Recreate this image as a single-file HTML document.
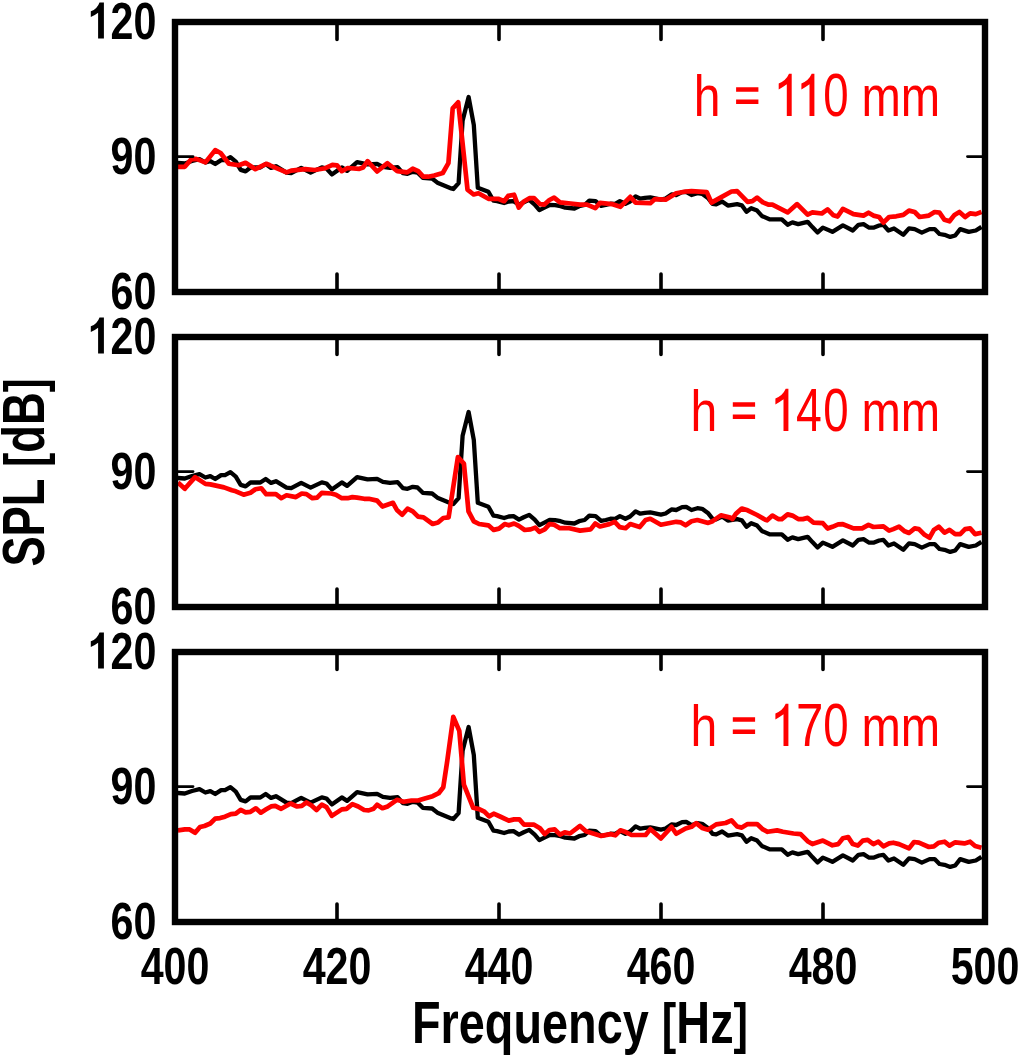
<!DOCTYPE html>
<html><head><meta charset="utf-8"><style>
html,body{margin:0;padding:0;background:#fff;width:1020px;height:1056px;overflow:hidden}
svg{display:block;will-change:transform}
text{font-family:"Liberation Sans",sans-serif}
.tl{font-weight:bold;font-size:51.5px;text-anchor:end}
.xl{font-weight:bold;font-size:51.5px;text-anchor:middle}
.pr{fill:#ff0000}
.ax{font-weight:bold;font-size:59px;text-anchor:middle}
</style></head><body>
<svg width="1020" height="1056" viewBox="0 0 1020 1056">
<clipPath id="c0"><rect x="178" y="25" width="804" height="264"/></clipPath>
<g clip-path="url(#c0)">
<polyline points="177.9,163.0 184.8,163.5 192.0,161.0 199.5,159.1 205.4,162.5 210.3,161.1 215.2,164.0 221.1,160.1 225.0,160.1 230.4,157.2 235.8,161.6 240.7,169.9 245.6,171.4 250.5,167.5 260.3,167.5 265.7,164.0 271.1,167.9 275.9,166.2 286.5,172.6 291.2,173.2 301.2,167.9 310.6,172.6 321.8,167.4 326.5,168.5 331.8,174.4 341.8,167.4 347.1,170.9 357.1,162.1 367.6,164.4 377.1,163.8 382.9,166.8 390.0,167.9 397.6,167.2 402.9,173.2 407.5,173.8 412.8,171.8 417.5,172.5 422.8,177.8 432.1,178.5 438.0,183.1 451.3,188.4 453.3,189.0 458.6,183.1 462.6,120.8 468.6,97.0 473.8,124.8 477.8,187.8 488.4,191.7 493.5,200.7 497.1,201.1 504.1,203.0 508.8,201.5 513.5,201.1 519.0,204.6 523.7,202.3 529.2,199.9 534.7,204.6 539.4,210.1 544.9,207.4 549.6,205.0 555.1,205.2 560.6,206.2 565.3,207.7 574.4,208.5 579.1,206.2 584.6,205.0 589.3,200.7 595.6,201.1 601.1,205.8 605.8,205.0 610.5,203.7 615.2,203.8 619.9,201.1 625.4,203.8 630.1,201.5 635.6,196.4 640.3,198.7 645.0,197.9 650.3,197.4 660.9,199.7 665.6,198.5 671.5,194.4 676.2,195.0 682.1,192.1 686.2,191.8 691.5,195.0 697.4,193.2 702.1,193.8 707.9,197.9 712.6,203.8 716.2,204.4 722.1,201.5 727.9,205.6 737.1,204.1 741.8,205.3 746.5,211.8 751.2,208.2 757.1,210.6 761.8,215.9 770.0,219.4 781.8,219.4 787.6,224.7 792.4,222.4 798.2,224.1 807.6,221.8 812.4,227.1 817.6,232.4 822.9,227.6 832.4,231.8 842.9,225.3 852.8,230.5 858.5,224.8 863.5,224.1 869.2,227.7 873.4,227.7 879.1,225.5 883.4,224.8 888.4,230.5 894.0,228.4 903.3,234.8 909.0,228.4 914.7,229.1 921.8,232.6 929.6,229.1 934.6,229.1 939.5,234.0 944.5,234.8 950.2,236.9 955.2,235.5 960.2,229.1 968.7,231.9 975.8,230.5 981.5,226.9" fill="none" stroke="#000" stroke-width="4.3" stroke-linejoin="round"/>
<polyline points="177.9,166.8 184.8,166.8 191.2,159.4 196.1,158.9 205.4,162.4 215.2,150.1 220.6,153.0 228.9,163.8 238.7,165.3 245.6,162.8 255.4,169.2 266.2,163.8 270.0,165.3 286.5,172.4 291.2,170.6 305.3,169.2 314.7,170.0 325.3,168.2 332.4,164.9 337.0,165.3 341.8,171.2 347.6,168.0 359.4,168.8 363.0,167.6 367.6,161.2 377.1,171.5 387.5,163.2 397.3,171.2 407.2,172.4 412.7,168.7 418.2,171.2 423.2,176.7 428.1,176.7 434.2,175.5 442.8,173.0 448.4,163.2 452.7,108.4 458.2,102.2 467.5,189.6 473.6,194.5 478.5,193.3 488.4,198.8 498.2,198.8 504.1,201.2 508.2,195.9 514.1,194.7 518.8,207.6 523.5,201.8 529.4,198.2 534.1,198.2 540.0,204.1 544.1,204.7 549.4,200.0 554.1,197.6 560.0,202.4 570.6,203.5 580.0,204.7 587.0,204.7 595.3,208.2 600.0,202.9 611.8,204.1 620.3,206.8 630.3,196.8 635.6,202.6 650.3,203.2 655.0,199.1 665.6,199.7 676.2,193.2 685.6,191.5 691.5,191.1 706.8,192.1 711.5,202.6 720.9,197.4 731.5,191.5 737.1,191.2 747.6,201.8 752.4,201.2 757.1,197.6 762.9,202.4 768.8,204.7 772.4,204.7 787.6,212.4 797.1,204.1 807.6,214.7 812.4,212.4 821.8,213.5 827.6,209.4 833.5,215.3 837.6,216.5 842.9,208.8 853.5,214.1 863.5,215.6 868.5,212.7 873.4,215.6 879.1,217.0 883.4,222.7 889.1,217.0 896.2,216.3 903.3,214.9 909.0,210.6 914.7,212.0 919.6,217.0 928.9,215.6 934.6,212.0 939.5,212.7 944.5,219.8 949.5,221.3 954.5,214.9 959.4,212.0 965.1,217.0 970.1,213.4 975.8,214.1 981.5,212.0" fill="none" stroke="#ff0000" stroke-width="4.7" stroke-linejoin="round"/>
</g>
<rect x="175" y="22" width="810" height="270" fill="none" stroke="#000" stroke-width="6.4"/>
<path d="M337 25V39.5M337 289V274.0M499 25V39.5M499 289V274.0M661 25V39.5M661 289V274.0M823 25V39.5M823 289V274.0" stroke="#000" stroke-width="3.6" stroke-linecap="round" fill="none"/>
<path d="M178 156.6H193M982 156.6H967.5" stroke="#000" stroke-width="2.9" stroke-linecap="round" fill="none"/>
<text class="tl" transform="translate(156.3,38.5) scale(0.800,1)">20</text>
<text class="tl" transform="translate(156.3,173.5) scale(0.800,1)">90</text>
<text class="tl" transform="translate(156.3,308.5) scale(0.800,1)">60</text>
<path transform="translate(90.8,38.4)" d="M8.7,-36L13.1,-36L13.1,0L7.3,0L7.3,-25.7Q4.5,-23.5 0,-21.3L0,-27.1Q6.5,-29.5 8.7,-36Z"/>
<text class="pr" style="font-size:57.0px" transform="translate(693.78,116.00) scale(0.8439,1)">h</text>
<path fill="#ff0000" d="M736.1 87.2h22.3v4.5h-22.3z M736.1 99.5h22.3v4.5h-22.3z"/>
<path fill="#ff0000" transform="translate(778.7,116.0)" d="M10.3,-42.2L13,-42.2L13,0L8.1,0L8.1,-31.7Q4.5,-29 0,-26.5L0,-32.5Q7.5,-35.5 10.3,-42.2Z"/>
<path fill="#ff0000" transform="translate(801.4,116.0)" d="M10.3,-42.2L13,-42.2L13,0L8.1,0L8.1,-31.7Q4.5,-29 0,-26.5L0,-32.5Q7.5,-35.5 10.3,-42.2Z"/>
<text class="pr" style="font-size:60.8px" transform="translate(823.22,116.00) scale(0.7501,1)">0</text>
<text class="pr" style="font-size:58.3px" transform="translate(861.48,116.00) scale(0.8107,1)">mm</text>
<clipPath id="c1"><rect x="178" y="340" width="804" height="264"/></clipPath>
<g clip-path="url(#c1)">
<polyline points="177.9,478.0 184.8,478.5 192.0,476.0 199.5,474.1 205.4,477.5 210.3,476.1 215.2,479.0 221.1,475.1 225.0,475.1 230.4,472.2 235.8,476.6 240.7,484.9 245.6,486.4 250.5,482.5 260.3,482.5 265.7,479.0 271.1,482.9 275.9,481.2 286.5,487.6 291.2,488.2 301.2,482.9 310.6,487.6 321.8,482.4 326.5,483.5 331.8,489.4 341.8,482.4 347.1,485.9 357.1,477.1 367.6,479.4 377.1,478.8 382.9,481.8 390.0,482.9 397.6,482.2 402.9,488.2 407.5,488.8 412.8,486.8 417.5,487.5 422.8,492.8 432.1,493.5 438.0,498.1 451.3,503.4 453.3,504.0 458.6,498.1 462.6,435.8 468.6,412.0 473.8,439.8 477.8,502.8 488.4,506.7 493.5,515.7 497.1,516.1 504.1,518.0 508.8,516.5 513.5,516.1 519.0,519.6 523.7,517.3 529.2,514.9 534.7,519.6 539.4,525.1 544.9,522.4 549.6,520.0 555.1,520.2 560.6,521.2 565.3,522.7 574.4,523.5 579.1,521.2 584.6,520.0 589.3,515.7 595.6,516.1 601.1,520.8 605.8,520.0 610.5,518.7 615.2,518.8 619.9,516.1 625.4,518.8 630.1,516.5 635.6,511.4 640.3,513.7 645.0,512.9 650.3,512.4 660.9,514.7 665.6,513.5 671.5,509.4 676.2,510.0 682.1,507.1 686.2,506.8 691.5,510.0 697.4,508.2 702.1,508.8 707.9,512.9 712.6,518.8 716.2,519.4 722.1,516.5 727.9,520.6 737.1,519.1 741.8,520.3 746.5,526.8 751.2,523.2 757.1,525.6 761.8,530.9 770.0,534.4 781.8,534.4 787.6,539.7 792.4,537.4 798.2,539.1 807.6,536.8 812.4,542.1 817.6,547.4 822.9,542.6 832.4,546.8 842.9,540.3 852.8,545.5 858.5,539.8 863.5,539.1 869.2,542.7 873.4,542.7 879.1,540.5 883.4,539.8 888.4,545.5 894.0,543.4 903.3,549.8 909.0,543.4 914.7,544.1 921.8,547.6 929.6,544.1 934.6,544.1 939.5,549.0 944.5,549.8 950.2,551.9 955.2,550.5 960.2,544.1 968.7,546.9 975.8,545.5 981.5,541.9" fill="none" stroke="#000" stroke-width="4.3" stroke-linejoin="round"/>
<polyline points="177.9,482.5 184.8,488.8 195.1,477.1 205.4,483.9 210.3,484.4 224.0,487.4 231.9,490.3 235.8,491.3 243.6,494.7 250.5,492.7 255.4,489.3 261.3,488.3 266.2,494.2 275.9,494.1 281.2,498.2 286.5,495.3 295.9,497.1 301.8,493.5 306.5,494.1 312.4,498.2 317.1,497.6 321.8,492.9 331.2,493.5 335.9,494.7 341.8,498.2 347.6,498.2 352.4,497.1 357.1,497.6 364.1,498.8 368.8,498.8 377.1,500.6 382.4,506.5 393.0,502.8 396.9,510.0 402.2,514.7 407.5,508.7 412.8,511.4 418.1,516.7 423.5,517.3 432.7,524.0 438.0,522.6 443.3,518.0 448.6,517.3 457.9,457.0 463.9,463.6 468.5,511.4 473.8,521.3 479.1,524.0 488.4,525.3 493.7,529.9 499.0,528.6 504.7,524.1 508.8,525.3 514.1,523.5 518.8,525.9 524.7,530.0 530.6,529.4 535.3,527.6 539.4,531.8 544.7,529.4 549.4,524.1 554.1,524.7 560.0,528.2 569.4,528.2 580.0,530.6 590.6,529.4 595.3,523.5 600.0,526.5 609.4,524.1 614.7,521.8 619.7,527.1 625.6,528.2 630.3,524.1 639.7,527.1 645.6,520.0 650.3,518.8 660.9,524.7 676.2,521.8 680.9,522.4 685.6,525.3 691.5,521.2 697.4,520.0 708.2,522.9 712.6,521.2 720.9,515.3 730.3,517.6 732.4,519.1 735.9,513.8 741.8,508.5 747.6,510.3 757.1,515.0 765.3,519.7 767.1,520.3 772.4,515.6 778.2,519.1 781.8,519.1 787.6,514.4 792.4,515.6 798.2,519.1 802.9,519.1 807.6,517.9 813.5,522.6 822.9,523.2 827.6,528.5 832.4,526.8 838.2,524.4 842.9,524.2 853.5,528.4 862.1,528.4 868.5,524.9 873.4,527.0 883.4,526.3 889.1,530.6 893.3,529.1 899.0,526.7 904.7,531.3 909.0,533.0 914.7,528.4 918.9,529.1 924.6,534.8 929.6,537.7 933.9,529.9 938.8,526.7 944.5,532.7 949.5,529.9 955.2,534.1 960.2,534.1 965.1,529.1 970.1,528.4 975.1,534.1 981.5,532.7" fill="none" stroke="#ff0000" stroke-width="4.7" stroke-linejoin="round"/>
</g>
<rect x="175" y="337" width="810" height="270" fill="none" stroke="#000" stroke-width="6.4"/>
<path d="M337 340V354.5M337 604V589.0M499 340V354.5M499 604V589.0M661 340V354.5M661 604V589.0M823 340V354.5M823 604V589.0" stroke="#000" stroke-width="3.6" stroke-linecap="round" fill="none"/>
<path d="M178 471.6H193M982 471.6H967.5" stroke="#000" stroke-width="2.9" stroke-linecap="round" fill="none"/>
<text class="tl" transform="translate(156.3,353.5) scale(0.800,1)">20</text>
<text class="tl" transform="translate(156.3,488.5) scale(0.800,1)">90</text>
<text class="tl" transform="translate(156.3,623.5) scale(0.800,1)">60</text>
<path transform="translate(90.8,353.4)" d="M8.7,-36L13.1,-36L13.1,0L7.3,0L7.3,-25.7Q4.5,-23.5 0,-21.3L0,-27.1Q6.5,-29.5 8.7,-36Z"/>
<text class="pr" style="font-size:57.0px" transform="translate(690.48,431.00) scale(0.8439,1)">h</text>
<path fill="#ff0000" d="M732.8 402.2h22.3v4.5h-22.3z M732.8 414.5h22.3v4.5h-22.3z"/>
<path fill="#ff0000" transform="translate(775.4,431.0)" d="M10.3,-42.2L13,-42.2L13,0L8.1,0L8.1,-31.7Q4.5,-29 0,-26.5L0,-32.5Q7.5,-35.5 10.3,-42.2Z"/>
<text class="pr" style="font-size:60.8px" transform="translate(795.93,431.00) scale(0.7636,1)">4</text>
<text class="pr" style="font-size:60.8px" transform="translate(823.22,431.00) scale(0.7501,1)">0</text>
<text class="pr" style="font-size:58.3px" transform="translate(861.48,431.00) scale(0.8107,1)">mm</text>
<clipPath id="c2"><rect x="178" y="655" width="804" height="264"/></clipPath>
<g clip-path="url(#c2)">
<polyline points="177.9,793.0 184.8,793.5 192.0,791.0 199.5,789.1 205.4,792.5 210.3,791.1 215.2,794.0 221.1,790.1 225.0,790.1 230.4,787.2 235.8,791.6 240.7,799.9 245.6,801.4 250.5,797.5 260.3,797.5 265.7,794.0 271.1,797.9 275.9,796.2 286.5,802.6 291.2,803.2 301.2,797.9 310.6,802.6 321.8,797.4 326.5,798.5 331.8,804.4 341.8,797.4 347.1,800.9 357.1,792.1 367.6,794.4 377.1,793.8 382.9,796.8 390.0,797.9 397.6,797.2 402.9,803.2 407.5,803.8 412.8,801.8 417.5,802.5 422.8,807.8 432.1,808.5 438.0,813.1 451.3,818.4 453.3,819.0 458.6,813.1 462.6,750.8 468.6,727.0 473.8,754.8 477.8,817.8 488.4,821.7 493.5,830.7 497.1,831.1 504.1,833.0 508.8,831.5 513.5,831.1 519.0,834.6 523.7,832.3 529.2,829.9 534.7,834.6 539.4,840.1 544.9,837.4 549.6,835.0 555.1,835.2 560.6,836.2 565.3,837.7 574.4,838.5 579.1,836.2 584.6,835.0 589.3,830.7 595.6,831.1 601.1,835.8 605.8,835.0 610.5,833.7 615.2,833.8 619.9,831.1 625.4,833.8 630.1,831.5 635.6,826.4 640.3,828.7 645.0,827.9 650.3,827.4 660.9,829.7 665.6,828.5 671.5,824.4 676.2,825.0 682.1,822.1 686.2,821.8 691.5,825.0 697.4,823.2 702.1,823.8 707.9,827.9 712.6,833.8 716.2,834.4 722.1,831.5 727.9,835.6 737.1,834.1 741.8,835.3 746.5,841.8 751.2,838.2 757.1,840.6 761.8,845.9 770.0,849.4 781.8,849.4 787.6,854.7 792.4,852.4 798.2,854.1 807.6,851.8 812.4,857.1 817.6,862.4 822.9,857.6 832.4,861.8 842.9,855.3 852.8,860.5 858.5,854.8 863.5,854.1 869.2,857.7 873.4,857.7 879.1,855.5 883.4,854.8 888.4,860.5 894.0,858.4 903.3,864.8 909.0,858.4 914.7,859.1 921.8,862.6 929.6,859.1 934.6,859.1 939.5,864.0 944.5,864.8 950.2,866.9 955.2,865.5 960.2,859.1 968.7,861.9 975.8,860.5 981.5,856.9" fill="none" stroke="#000" stroke-width="4.3" stroke-linejoin="round"/>
<polyline points="177.9,830.4 184.8,829.4 189.7,829.4 195.1,832.8 200.0,827.0 204.4,826.0 210.3,823.5 215.2,818.6 220.1,818.1 225.0,816.7 230.9,814.2 235.8,813.7 240.7,809.8 245.6,812.3 250.5,811.8 255.9,808.3 260.8,812.7 266.2,809.3 271.1,806.4 275.3,805.9 281.2,808.8 290.6,803.5 297.1,806.5 301.8,805.9 306.5,802.4 311.2,805.3 316.5,810.0 321.8,804.7 326.5,807.1 331.8,815.9 341.8,809.4 346.5,808.8 352.4,804.1 358.2,806.5 364.1,810.0 368.8,810.4 373.5,808.8 377.1,804.7 382.4,808.2 387.7,806.4 396.9,799.8 403.6,801.8 411.5,800.5 418.1,800.5 424.8,798.5 432.7,796.2 438.7,793.2 443.3,787.2 447.3,760.7 453.3,716.9 459.3,730.9 463.9,784.6 473.2,807.8 479.1,809.1 484.4,811.7 489.1,816.4 493.7,813.7 500.0,816.5 508.8,820.6 514.1,819.4 519.4,819.4 524.1,824.7 534.1,824.7 540.0,828.2 544.7,834.1 549.4,830.0 554.7,829.4 560.0,834.7 564.7,832.4 570.0,833.5 580.0,825.9 585.9,831.2 601.2,835.9 610.6,834.1 615.3,835.3 620.3,830.3 625.6,832.1 631.5,835.0 645.6,835.0 650.3,829.1 660.9,838.5 671.5,826.8 676.2,833.8 685.6,828.5 691.5,826.8 696.2,823.2 702.1,827.9 708.0,829.7 716.2,824.4 725.6,823.0 731.5,820.3 737.1,826.5 741.8,827.6 747.6,824.1 757.1,824.1 762.9,829.4 767.6,831.8 777.1,830.4 782.9,831.8 793.5,833.5 800.6,834.1 807.6,841.2 812.4,844.1 822.9,840.6 832.4,845.3 838.2,844.1 842.9,838.2 848.2,837.1 852.8,844.1 857.8,845.6 862.8,840.6 867.7,839.9 873.4,844.1 878.4,841.7 883.4,846.3 889.1,843.4 893.3,842.7 899.0,844.1 909.0,848.4 914.0,842.0 918.9,842.7 928.9,847.0 933.9,846.3 938.8,842.7 944.5,841.7 949.5,845.6 955.2,842.3 964.4,843.4 970.1,841.7 975.1,846.0 981.5,847.7" fill="none" stroke="#ff0000" stroke-width="4.7" stroke-linejoin="round"/>
</g>
<rect x="175" y="652" width="810" height="270" fill="none" stroke="#000" stroke-width="6.4"/>
<path d="M337 655V669.5M337 919V904.0M499 655V669.5M499 919V904.0M661 655V669.5M661 919V904.0M823 655V669.5M823 919V904.0" stroke="#000" stroke-width="3.6" stroke-linecap="round" fill="none"/>
<path d="M178 786.6H193M982 786.6H967.5" stroke="#000" stroke-width="2.9" stroke-linecap="round" fill="none"/>
<text class="tl" transform="translate(156.3,668.5) scale(0.800,1)">20</text>
<text class="tl" transform="translate(156.3,803.5) scale(0.800,1)">90</text>
<text class="tl" transform="translate(156.3,938.5) scale(0.800,1)">60</text>
<path transform="translate(90.8,668.4)" d="M8.7,-36L13.1,-36L13.1,0L7.3,0L7.3,-25.7Q4.5,-23.5 0,-21.3L0,-27.1Q6.5,-29.5 8.7,-36Z"/>
<text class="pr" style="font-size:57.0px" transform="translate(690.48,746.00) scale(0.8439,1)">h</text>
<path fill="#ff0000" d="M732.8 717.2h22.3v4.5h-22.3z M732.8 729.5h22.3v4.5h-22.3z"/>
<path fill="#ff0000" transform="translate(775.4,746.0)" d="M10.3,-42.2L13,-42.2L13,0L8.1,0L8.1,-31.7Q4.5,-29 0,-26.5L0,-32.5Q7.5,-35.5 10.3,-42.2Z"/>
<text class="pr" style="font-size:60.8px" transform="translate(795.89,746.00) scale(0.8097,1)">7</text>
<text class="pr" style="font-size:60.8px" transform="translate(823.22,746.00) scale(0.7501,1)">0</text>
<text class="pr" style="font-size:58.3px" transform="translate(861.48,746.00) scale(0.8107,1)">mm</text>
<text class="xl" transform="translate(175,983.5) scale(0.800,1)">400</text>
<text class="xl" transform="translate(337,983.5) scale(0.800,1)">420</text>
<text class="xl" transform="translate(499,983.5) scale(0.800,1)">440</text>
<text class="xl" transform="translate(661,983.5) scale(0.800,1)">460</text>
<text class="xl" transform="translate(823,983.5) scale(0.800,1)">480</text>
<text class="xl" transform="translate(985,983.5) scale(0.800,1)">500</text>
<text class="ax" transform="translate(580,1042.6) scale(0.794,1)">Frequency <tspan style="font-size:54.7px" dy="-1">[</tspan><tspan dy="1">Hz</tspan><tspan style="font-size:54.7px" dy="-1">]</tspan></text>
<text class="ax" transform="translate(44,472.5) rotate(-90) scale(0.768,1)">SPL <tspan style="font-size:54.7px" dy="-1">[</tspan><tspan dy="1">dB</tspan><tspan style="font-size:54.7px" dy="-1">]</tspan></text>
</svg>
</body></html>
